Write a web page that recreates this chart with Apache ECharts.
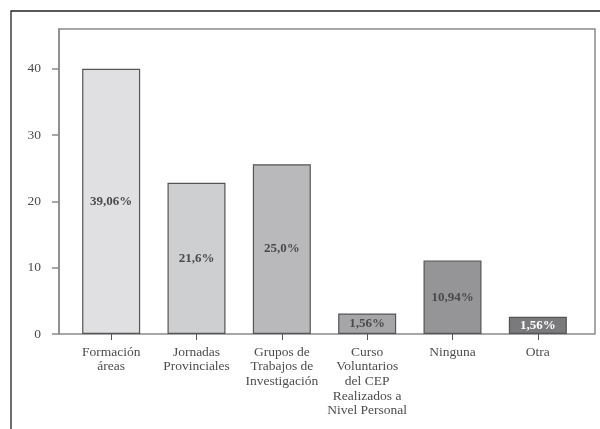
<!DOCTYPE html>
<html>
<head>
<meta charset="utf-8">
<script src="https://cdn.jsdelivr.net/npm/echarts@6/dist/echarts.min.js"></script>
<style>
html,body{margin:0;padding:0;background:#fff;}
#chart{width:600px;height:429px;}
</style>
</head>
<body>
<div id="chart"></div>
<script>
var categories = ['Formación\náreas', 'Jornadas\nProvinciales', 'Grupos de\nTrabajos de\nInvestigación', 'Curso\nVoluntarios\ndel CEP\nRealizados a\nNivel Personal', 'Ninguna', 'Otra'];
var values = [40, 22.8, 25.6, 3.1, 11.1, 2.6];
var barLabels = ['39,06%', '21,6%', '25,0%', '1,56%', '10,94%', '1,56%'];
var barColors = ['#e0e0e2', '#cecfd1', '#b9b9bb', '#a6a6a8', '#959597', '#7a7a7c'];
var labelColors = ['#4a4a4a', '#4a4a4a', '#4a4a4a', '#4a4a4a', '#4a4a4a', '#ffffff'];
var yTicks = [0, 10, 20, 30, 40];

var serif = 'Liberation Serif';
var chart = echarts.init(document.getElementById('chart'));
chart.setOption({
  animation: false,
  backgroundColor: '#fff',
  graphic: [{
    type: 'rect', silent: true,
    shape: {x: 11, y: 11, width: 700, height: 600},
    style: {fill: 'none', stroke: '#222', lineWidth: 1.3}
  }],
  grid: [
    {left: 59, right: 5, top: 29, bottom: 95, show: true, borderColor: '#8a8a8a', borderWidth: 1.5, backgroundColor: 'transparent'},
    {left: 68.5, right: 19.5, top: 29, bottom: 95}
  ],
  xAxis: [
    {gridIndex: 0, type: 'value', min: 0, max: 1, show: false},
    {gridIndex: 1, type: 'category', data: categories,
      axisLine: {show: false},
      axisTick: {show: true, alignWithLabel: true, length: 6, lineStyle: {color: '#555', width: 1}},
      axisLabel: {interval: 0, margin: 11, color: '#4d4d4d', fontFamily: serif, fontSize: 13.5, lineHeight: 14.6}
    }
  ],
  yAxis: [
    {gridIndex: 0, type: 'value', min: 0, max: 46,
      axisLine: {show: true, lineStyle: {color: '#8a8a8a', width: 1.5}},
      axisTick: {show: true, length: 7, customValues: yTicks, lineStyle: {color: '#8a8a8a', width: 1.5}},
      axisLabel: {margin: 18, customValues: yTicks, color: '#4d4d4d', fontFamily: serif, fontSize: 13.5},
      splitLine: {show: false}
    },
    {gridIndex: 1, type: 'value', min: 0, max: 46, show: false, splitLine: {show: false}}
  ],
  series: [{
    type: 'bar', xAxisIndex: 1, yAxisIndex: 1,
    barWidth: 58,
    data: values.map(function (v, i) {
      return {
        value: v,
        itemStyle: {color: barColors[i], borderColor: '#555', borderWidth: 1.2},
        label: {show: true, position: 'inside', formatter: barLabels[i], color: labelColors[i],
          fontFamily: serif, fontWeight: 'bold', fontSize: 13}
      };
    })
  }]
});
</script>
</body>
</html>
